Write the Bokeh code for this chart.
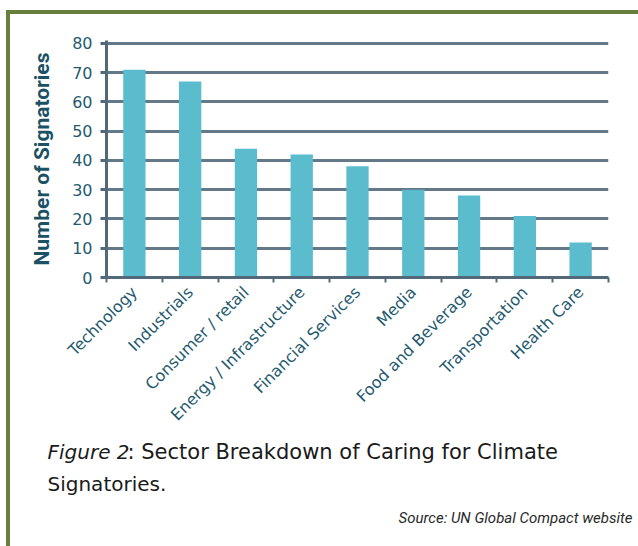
from bokeh.plotting import figure
from bokeh.layouts import column
from bokeh.models import Range1d, FixedTicker, Label, ColumnDataSource
from bokeh.embed import file_html
from bokeh.resources import INLINE
from math import pi

sectors = ["Technology", "Industrials", "Consumer / retail", "Energy / Infrastructure",
           "Financial Services", "Media", "Food and Beverage", "Transportation", "Health Care"]
signatories = [71, 67, 44, 42, 38, 30, 28, 21, 12]
y_ticks = [0, 10, 20, 30, 40, 50, 60, 70, 80]

caption_lead = "Figure 2"
caption_rest = ": Sector Breakdown of Caring for Climate"
caption_line2 = "Signatories."
source_note = "Source: UN Global Compact website"

BAR = "#5bbccd"
GRID = "#52697c"
TEXT = "#1f5a6e"
GREEN = "#677f3b"
INK = "#1a1a1a"

centers = [i + 0.5 for i in range(len(sectors))]
bounds = list(range(len(sectors) + 1))
src = ColumnDataSource(dict(x=centers, top=signatories, name=sectors))

# ---- bar chart -------------------------------------------------------------
p = figure(width=628, height=426, output_backend="svg", toolbar_location=None,
           x_range=Range1d(0, len(sectors)), y_range=Range1d(0, 81),
           min_border_left=96, min_border_right=30, min_border_top=26,
           min_border_bottom=163, background_fill_color="white",
           border_fill_color="white", frame_align=False)
p.outline_line_color = None

p.vbar(x="x", top="top", width=0.4, source=src, fill_color=BAR, line_color=None)

# x axis: labels at bar centres, small ticks at category boundaries
p.xaxis.ticker = FixedTicker(ticks=centers, minor_ticks=bounds)
p.xaxis.major_label_overrides = {c: s for c, s in zip(centers, sectors)}
p.xaxis.major_label_orientation = pi / 4
p.xaxis.major_tick_out = 0
p.xaxis.major_tick_in = 0
p.xaxis.minor_tick_out = 5
p.xaxis.minor_tick_in = 0
p.xaxis.minor_tick_line_color = GRID
p.xaxis.minor_tick_line_width = 2
p.xaxis.axis_line_color = GRID
p.xaxis.axis_line_width = 3
p.xaxis.major_label_text_font = "DejaVu Sans"
p.xaxis.major_label_text_font_size = "16px"
p.xaxis.major_label_text_color = TEXT
p.xaxis.major_label_standoff = 7
p.xgrid.visible = False

# y axis
p.yaxis.ticker = FixedTicker(ticks=y_ticks)
p.yaxis.minor_tick_line_color = None
p.yaxis.major_tick_out = 6
p.yaxis.major_tick_in = 0
p.yaxis.major_tick_line_color = GRID
p.yaxis.major_tick_line_width = 3
p.yaxis.axis_line_color = GRID
p.yaxis.axis_line_width = 3
p.yaxis.major_label_text_font = "DejaVu Sans"
p.yaxis.major_label_text_font_size = "16px"
p.yaxis.major_label_text_color = TEXT
p.yaxis.major_label_standoff = 8
p.yaxis.axis_label = "Number of Signatories"
p.yaxis.axis_label_text_font = "Roboto"
p.yaxis.axis_label_text_font_style = "bold"
p.yaxis.axis_label_text_font_size = "21px"
p.yaxis.axis_label_text_color = "#1b5165"
p.yaxis.axis_label_standoff = 15

p.ygrid.grid_line_color = GRID
p.ygrid.grid_line_width = 3
p.ygrid.grid_line_alpha = 0.9

# ---- caption block ---------------------------------------------------------
cap = figure(width=628, height=106, output_backend="svg", toolbar_location=None,
             x_range=Range1d(0, 628), y_range=Range1d(0, 106),
             x_axis_location=None, y_axis_location=None,
             min_border=0, background_fill_color="white", border_fill_color="white",
             frame_align=False)
cap.outline_line_color = None
cap.grid.visible = False

cap_font = dict(text_font="DejaVu Sans", text_color=INK, text_baseline="alphabetic",
                x_units="screen", y_units="screen")
cap.add_layout(Label(x=37, y=95, text=caption_lead, text_font_style="italic",
                     text_font_size="20px", **cap_font))
cap.add_layout(Label(x=117, y=95, text=caption_rest, text_font_size="21px", **cap_font))
cap.add_layout(Label(x=37, y=63, text=caption_line2, text_font_size="20px", **cap_font))
cap.add_layout(Label(x=622, y=29, x_units="screen", y_units="screen", text=source_note,
                     text_font="Roboto", text_font_style="italic", text_font_size="15px",
                     text_color="#2a2a2a", text_align="right", text_baseline="alphabetic"))

# green rule along the top and left edge of the figure block
layout = column(p, cap, spacing=0,
                styles={"margin-left": "6px", "margin-top": "10px",
                        "border-top": f"4px solid {GREEN}",
                        "border-left": f"4px solid {GREEN}"})

open("out.html", "w").write(file_html(layout, INLINE))
